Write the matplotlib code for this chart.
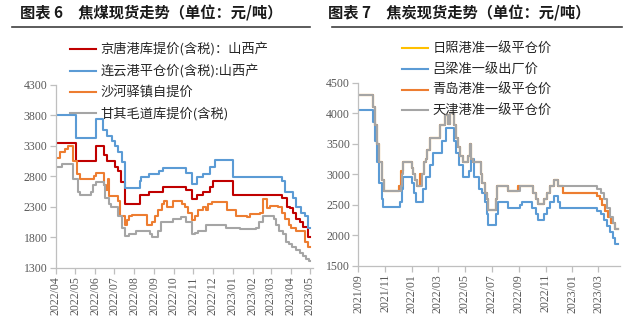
import matplotlib
matplotlib.use("Agg")
import matplotlib.pyplot as plt
import matplotlib.dates as mdates
from matplotlib.lines import Line2D
import pandas as pd

# ---- 图表6 焦煤 (days counted from 2022-04-01) ----
coal_start = "2022-04-01"
coal_end_day = 396
jingtang_days = [0, 31, 63, 74, 79, 92, 97, 101, 107, 131, 144, 167, 203, 211, 219, 229, 240, 245, 275,
                 352, 359, 364, 369, 374, 380, 385, 392]
jingtang_vals = [3350, 3050, 3300, 3150, 3050, 2950, 2880, 2700, 2350, 2500, 2550, 2620, 2570, 2420, 2500,
                 2550, 2620, 2720, 2500, 2450, 2300, 2280, 2200, 2100, 2050, 1970, 1800]
lianyun_days = [0, 31, 63, 73, 80, 87, 92, 96, 102, 107, 130, 133, 144, 160, 167, 203, 211, 219, 229, 240,
                247, 275, 351, 356, 369, 374, 382, 387, 392]
lianyun_vals = [3800, 3430, 3730, 3550, 3450, 3380, 3300, 3200, 3030, 2600, 2720, 2780, 2840, 2880, 2930,
                2850, 2680, 2780, 2830, 2950, 3060, 2780, 2720, 2550, 2450, 2300, 2200, 2150, 1950]
shahe_days = [0, 6, 14, 19, 27, 32, 37, 59, 62, 74, 78, 81, 83, 96, 99, 107, 110, 113, 118, 141, 150, 154,
              159, 165, 168, 173, 182, 196, 201, 206, 211, 216, 221, 229, 234, 237, 243, 266, 280, 297, 302,
              318, 322, 328, 333, 345, 352, 357, 362, 366, 373, 388, 392]
shahe_vals = [3100, 3200, 3250, 3300, 3050, 2830, 2750, 2800, 2850, 2650, 2580, 2750, 2480, 2400, 2150, 2000,
              2080, 2150, 2170, 2000, 2050, 2150, 2250, 2350, 2390, 2300, 2400, 2350, 2300, 2200, 2080, 2150,
              2250, 2300, 2250, 2350, 2380, 2250, 2150, 2130, 2180, 2200, 2420, 2280, 2320, 2300, 2200, 2100,
              2000, 1950, 1900, 1720, 1650]
ganqi_days = [0, 9, 27, 34, 37, 55, 58, 63, 74, 77, 82, 85, 97, 102, 107, 113, 124, 146, 149, 158, 164, 182,
              194, 203, 211, 216, 221, 234, 264, 286, 311, 316, 322, 339, 342, 347, 353, 358, 362, 368, 374,
              379, 384, 389, 394]
ganqi_vals = [2950, 3000, 2750, 2550, 2500, 2550, 2650, 2700, 2650, 2450, 2350, 2300, 2150, 1950, 1820, 1850,
              1900, 1850, 1800, 1900, 2050, 2100, 2130, 2050, 1850, 1880, 1900, 2000, 1950, 1930, 1950, 2050,
              2150, 2100, 2000, 1900, 1850, 1720, 1700, 1650, 1600, 1550, 1500, 1450, 1420]
coal_labels = ["京唐港库提价(含税)：山西产", "连云港平仓价(含税):山西产", "沙河驿镇自提价", "甘其毛道库提价(含税)"]

# ---- 图表7 焦炭 (days counted from 2021-09-01) ----
coke_start = "2021-09-01"
coke_end_day = 591
qingdao_days = [0, 33, 38, 43, 48, 53, 58, 93, 98, 102, 121, 125, 130, 134, 141, 149, 153, 157, 163, 186,
                197, 204, 209, 218, 222, 227, 232, 237, 249, 253, 257, 260, 278, 282, 287, 292, 296, 312, 315,
                341, 362, 397, 404, 409, 422, 428, 436, 446, 453, 466, 543, 549, 555, 561, 567, 574, 584]
qingdao_vals = [4300, 4100, 3800, 3500, 3200, 2900, 2720, 2800, 3050, 3200, 3100, 3000, 2900, 2800, 3000,
                3200, 3250, 3400, 3600, 3800, 3970, 3820, 4000, 3800, 3600, 3450, 3300, 3200, 3300, 3500,
                3250, 3200, 3000, 2850, 2700, 2600, 2420, 2600, 2800, 2720, 2800, 2700, 2600, 2520, 2600,
                2700, 2800, 2900, 2800, 2700, 2650, 2600, 2500, 2400, 2300, 2200, 2100]
rizhao_days = qingdao_days
rizhao_vals = qingdao_vals
lvliang_days = [0, 33, 38, 43, 48, 53, 57, 95, 100, 102, 121, 127, 131, 148, 154, 162, 169, 190, 200, 218,
                222, 230, 237, 252, 256, 262, 275, 282, 287, 292, 296, 312, 318, 341, 368, 372, 396, 404, 409,
                422, 428, 436, 446, 453, 459, 543, 551, 559, 566, 572, 578, 584]
lvliang_vals = [4050, 3850, 3550, 3200, 2850, 2600, 2460, 2550, 2750, 2960, 2850, 2700, 2550, 2750, 2950,
                3150, 3350, 3550, 3760, 3550, 3350, 3150, 2960, 3050, 3250, 2950, 2750, 2700, 2550, 2350,
                2160, 2350, 2550, 2450, 2500, 2550, 2450, 2350, 2250, 2350, 2450, 2550, 2650, 2550, 2450,
                2400, 2350, 2250, 2150, 2050, 1950, 1850]
tianjin_days = [0, 33, 38, 43, 48, 53, 58, 97, 100, 102, 121, 125, 130, 134, 144, 149, 153, 157, 163, 186,
                197, 204, 209, 218, 222, 227, 232, 237, 249, 253, 257, 260, 278, 282, 287, 292, 296, 312, 315,
                341, 368, 397, 404, 409, 422, 428, 436, 446, 453, 543, 551, 559, 566, 572, 578, 584]
tianjin_vals = [4300, 4100, 3800, 3500, 3200, 2900, 2720, 2800, 3000, 3200, 3100, 3000, 2900, 2800, 3000,
                3200, 3250, 3400, 3600, 3800, 3970, 3820, 4000, 3800, 3600, 3450, 3300, 3200, 3300, 3500,
                3250, 3200, 3000, 2850, 2700, 2600, 2420, 2600, 2800, 2720, 2800, 2700, 2600, 2520, 2600,
                2700, 2800, 2900, 2800, 2750, 2700, 2600, 2450, 2300, 2200, 2100]
coke_labels = ["日照港准一级平仓价", "吕梁准一级出厂价", "青岛港准一级平仓价", "天津港准一级平仓价"]

CJK = ["Noto Sans CJK SC", "DejaVu Sans"]
plt.rcParams["font.family"] = CJK
GRID = "#BFBFBF"
TXT = "#595959"


def steps(start, days, vals, end_day):
    x = pd.Timestamp(start) + pd.to_timedelta(list(days) + [end_day], unit="D")
    return x, list(vals) + [vals[-1]]


def style_axes(ax):
    for s in ("top", "right"):
        ax.spines[s].set_visible(False)
    for s in ("left", "bottom"):
        ax.spines[s].set_color(GRID)
        ax.spines[s].set_linewidth(0.9)
    ax.tick_params(axis="both", colors=GRID, labelcolor=TXT, length=4, width=0.9,
                   labelsize=8.5, pad=2)
    for lab in ax.get_xticklabels() + ax.get_yticklabels():
        lab.set_fontfamily("Liberation Serif")
    for lab in ax.get_xticklabels():
        lab.set_rotation(90)


fig = plt.figure(figsize=(6.28, 3.24), dpi=100)
W, H = 628, 324
ax1 = fig.add_axes([56 / W, 1 - 268 / H, (313 - 56) / W, (268 - 84.5) / H])
ax2 = fig.add_axes([358.3 / W, 1 - 265.7 / H, (620 - 358.3) / W, (265.7 - 82.8) / H])

colors = ["#C00000", "#5B9BD5", "#ED7D31", "#A5A5A5"]
coal = [(jingtang_days, jingtang_vals), (lianyun_days, lianyun_vals),
        (shahe_days, shahe_vals), (ganqi_days, ganqi_vals)]
for (d, v), c, lab in zip(coal, colors, coal_labels):
    x, y = steps(coal_start, d, v, coal_end_day)
    ax1.plot(x, y, drawstyle="steps-post", color=c, lw=1.5, label=lab)

coke_colors = ["#FFC000", "#5B9BD5", "#ED7D31", "#A5A5A5"]
coke = [(rizhao_days, rizhao_vals), (lvliang_days, lvliang_vals),
        (qingdao_days, qingdao_vals), (tianjin_days, tianjin_vals)]
for (d, v), c, lab in zip(coke, coke_colors, coke_labels):
    x, y = steps(coke_start, d, v, coke_end_day)
    ax2.plot(x, y, drawstyle="steps-post", color=c, lw=1.5, label=lab)

ax1.set_ylim(1300, 4300)
ax1.set_yticks(range(1300, 4301, 500))
ax1.set_xlim(pd.Timestamp("2022-04-01"), pd.Timestamp("2023-05-06"))
ax1.set_xticks(pd.date_range("2022-04-01", "2023-05-01", freq="MS"))
ax1.xaxis.set_major_formatter(mdates.DateFormatter("%Y/%m"))

ax2.set_ylim(1500, 4500)
ax2.set_yticks(range(1500, 4501, 500))
ax2.set_xlim(pd.Timestamp("2021-09-01"), pd.Timestamp("2023-04-19"))
ax2.set_xticks(pd.date_range("2021-09-01", "2023-03-01", freq="2MS"))
ax2.xaxis.set_major_formatter(mdates.DateFormatter("%Y/%m"))

for ax in (ax1, ax2):
    style_axes(ax)

leg_kw = dict(loc="upper left", bbox_transform=fig.transFigure, frameon=False, borderpad=0,
              borderaxespad=0, handlelength=2.0, handletextpad=0.3, labelspacing=0.58,
              prop={"family": CJK, "size": 9.5})
leg1 = ax1.legend(bbox_to_anchor=(70 / W, 1 - 43 / H), **leg_kw)
leg2 = ax2.legend(bbox_to_anchor=(402 / W, 1 - 43 / H), **leg_kw)
for leg in (leg1, leg2):
    for t in leg.get_texts():
        t.set_color("#262626")

fig.text(20 / W, 1 - 13 / H, "图表 6　焦煤现货走势（单位：元/吨）", fontsize=11,
         fontweight="bold", va="center", ha="left", color="#1a1a1a")
fig.text(328 / W, 1 - 13 / H, "图表 7　焦炭现货走势（单位：元/吨）", fontsize=11,
         fontweight="bold", va="center", ha="left", color="#1a1a1a")
fig.add_artist(Line2D([12 / W, 310 / W], [1 - 27 / H] * 2, color="#404040", lw=1.2))
fig.add_artist(Line2D([332 / W, 622 / W], [1 - 27 / H] * 2, color="#404040", lw=1.2))

fig.savefig("out.png", dpi=100)
